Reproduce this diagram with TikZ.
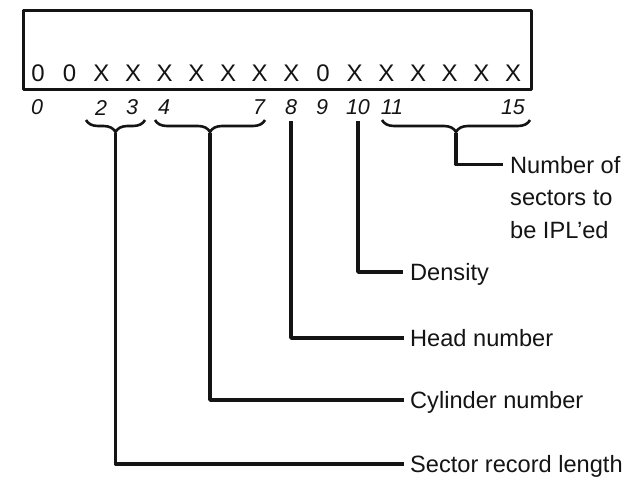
\documentclass[tikz,border=0pt]{standalone}
\usepackage{fontspec}
\usetikzlibrary{decorations.pathreplacing}
\newfontfamily\labelfont{Liberation Sans}

\begin{document}
\begin{tikzpicture}[x=1pt,y=-1pt,line join=round]
  \definecolor{ink}{RGB}{20,20,20}
  \tikzset{
    txt/.style={font=\labelfont\fontsize{23.6}{32.5}\selectfont,inner sep=0pt,text=ink},
    lbl/.style={txt,text height=16.5pt,text depth=0pt,anchor=west},
    bit/.style={font=\labelfont\fontsize{24}{28}\selectfont,inner sep=0pt,text=ink},
    idx/.style={font=\labelfont\itshape\fontsize{21.5}{25}\selectfont,inner sep=0pt,text=ink},
    lead/.style={ink,line width=3.4pt},
    brc/.style={ink,line width=2.6pt,decorate,decoration={brace,mirror,amplitude=12pt}}
  }
  \useasboundingbox (0,0) rectangle (630,482);

  % register box
  \node (reg) [draw=ink,line width=2.8pt,minimum width=508pt,minimum height=79pt,
    inner sep=0pt,anchor=north west] at (22,9) {};

  % bit values
  \foreach \b [count=\i from 0] in {0,0,X,X,X,X,X,X,X,0,X,X,X,X,X,X}
    \node (b\i) [bit] at (38+31.67*\i,73) {\b};

  % bit numbers
  \node (i0) [idx] at (37,107.5) {0};
  \node (i2) [idx] at (101,107.5) {2};
  \node (i3) [idx] at (132,107.5) {3};
  \node (i4) [idx] at (164,107.5) {4};
  \node (i7) [idx] at (259,107.5) {7};
  \node (i8) [idx] at (291,107.5) {8};
  \node (i9) [idx] at (322,107.5) {9};
  \node (i10) [idx] at (358,107.5) {10};
  \node (i11) [idx] at (392,107.5) {11};
  \node (i15) [idx] at (513,107.5) {15};

  % braces over the fields
  \draw[brc] (86,120) -- (145,120);
  \draw[brc] (155,120) -- (265,120);
  \draw[brc] (382,120) -- (530,120);
  \coordinate (t1) at (115.5,133);
  \coordinate (t2) at (210,133);
  \coordinate (t3) at (456,133);

  % field names
  \node (tnum) [txt,align=left,anchor=north west] at (510,156) {Number of\\sectors to\\be IPL’ed};
  \node (tden) [lbl] at (410,272) {Density};
  \node (thead) [lbl] at (410,338) {Head number};
  \node (tcyl) [lbl] at (410,400) {Cylinder number};
  \node (tsec) [lbl] at (410,464) {Sector record length};

  % leader lines
  \draw[lead] (t3) |- ([xshift=-7pt,yshift=-8.5pt]tnum.north west);
  \draw[lead] ([yshift=-6pt]i10.south) |- ([xshift=-7pt]tden.west);
  \draw[lead] ([yshift=-6pt]i8.south) |- ([xshift=-6pt]thead.west);
  \draw[lead] (t2) |- ([xshift=-6pt]tcyl.west);
  \draw[lead] (t1) |- ([xshift=-6pt]tsec.west);
\end{tikzpicture}
\end{document}
